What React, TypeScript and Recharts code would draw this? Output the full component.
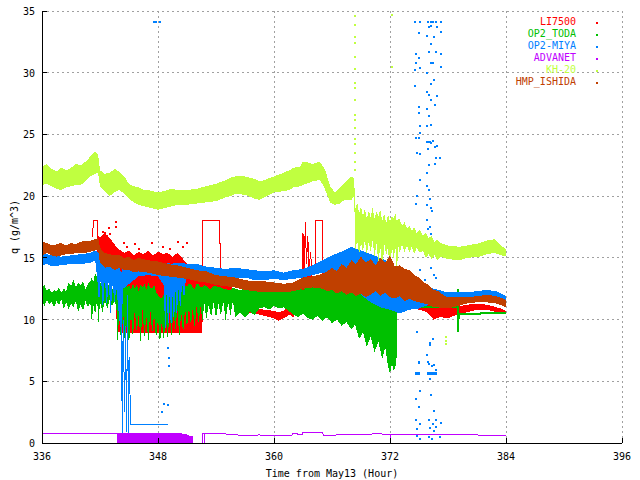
import React from 'react';
import {
  ComposedChart,
  Area,
  Line,
  Scatter,
  XAxis,
  YAxis,
  CartesianGrid,
} from 'recharts';

const FONT = '"DejaVu Sans Mono", "Liberation Mono", monospace';

const X_TICKS = [336, 348, 360, 372, 384, 396];
const Y_TICKS = [0, 5, 10, 15, 20, 25, 30, 35];

const SERIES_NAMES = ['LI7500', 'OP2_TODA', 'OP2-MIYA', 'ADVANET', 'KH-20', 'HMP_ISHIDA'];
const SERIES_COLORS = ['#ff0000', '#00c000', '#0080ff', '#c000ff', '#c0ff40', '#c04000'];
const [RED, GREEN, BLUE, PURPLE, YELLOW, BROWN] = SERIES_COLORS;

const LI7500_BAND = [
  [341.7, 14.8, 16.9], [342.0, 14.4, 16.6], [342.4, 14.0, 17.0], [342.8, 13.6, 16.8],
  [343.2, 13.4, 16.4], [343.6, 13.0, 16.0], [343.75, 9.0, 15.8], [344.5, 8.9, 15.4],
  [345.0, 8.9, 15.6], [345.5, 8.9, 15.2], [346.0, 8.9, 15.5], [346.5, 8.9, 15.3],
  [347.0, 8.9, 15.6], [347.5, 8.9, 15.2], [348.0, 8.9, 15.5], [348.5, 8.9, 15.3],
  [349.0, 8.9, 15.4], [349.5, 8.9, 15.1], [350.0, 8.9, 15.4], [350.5, 8.9, 15.0],
  [351.0, 8.9, 14.5], [351.5, 8.9, 14.0], [352.0, 8.9, 13.6], [352.5, 8.9, 13.4],
  [352.6, 11.8, 13.4], [353.5, 11.8, 13.2], [354.5, 11.6, 13.0], [355.5, 11.8, 12.8],
  [356.0, 11.0, 12.2], [356.5, 10.6, 11.4], [357.0, 10.5, 11.0], [358.0, 10.5, 10.9],
  [359.0, 10.3, 10.8], [360.0, 10.1, 10.7], [360.5, 9.9, 10.6], [361.0, 10.1, 10.7],
  [361.6, 10.4, 11.2], [362.0, 10.2, 11.8], [362.5, 10.8, 12.4], [362.9, 11.5, 13.6],
  [363.9, 11.5, 13.5], [364.2, 11.0, 13.0], [365.0, 10.2, 11.2], [366.0, 10.5, 12.0],
  [368.0, 10.6, 12.2], [370.0, 10.5, 12.4], [372.0, 10.8, 11.8], [373.0, 11.0, 11.8],
  [374.0, 10.9, 11.7], [375.0, 10.8, 11.8], [375.8, 10.6, 11.4], [376.5, 10.0, 11.2],
  [377.2, 10.2, 11.0], [378.0, 10.1, 10.9], [378.5, 10.3, 10.9], [379.2, 10.4, 11.1],
  [380.0, 10.6, 11.2], [381.0, 10.8, 11.3], [382.0, 10.8, 11.2], [383.0, 10.6, 11.0],
  [383.5, 10.5, 10.9], [384.0, 10.4, 10.7],
];
const LI7500_STEP_A = [[341.25, 16.7], [341.3, 18.0], [341.7, 18.0], [341.75, 16.2]];
const LI7500_STEP_B = [[352.55, 9.0], [352.6, 18.0], [354.4, 18.0], [354.45, 11.8]];
const LI7500_STEP_C = [[364.25, 14.3], [364.3, 18.0], [365.0, 18.0], [365.05, 12.8]];
const LI7500_SPIKE = [
  [362.9, 13.5], [363.0, 17.0], [363.1, 14.0], [363.25, 17.9], [363.35, 14.5],
  [363.5, 16.8], [363.6, 14.0], [363.8, 15.5], [363.9, 13.5],
];
const LI7500_DOTS = [
  [342.3, 17.1], [342.5, 17.0], [342.9, 17.4], [343.0, 16.9], [343.7, 17.9], [343.65, 17.5],
  [344.5, 16.2], [344.75, 15.9], [345.6, 16.1], [346.0, 15.7], [347.35, 16.2], [348.55, 15.9],
  [349.25, 15.7], [350.1, 16.3], [350.6, 15.9], [350.95, 16.2],
];

const OP2_TODA_BAND = [
  [336.0, 11.5, 12.6], [336.25, 11.1, 12.8], [336.5, 11.6, 12.3], [336.75, 11.2, 12.5],
  [337.0, 11.4, 12.2], [337.25, 11.0, 12.4], [337.5, 11.5, 12.3], [337.75, 11.2, 12.6],
  [338.0, 11.6, 12.2], [338.25, 10.9, 12.5], [338.5, 11.4, 12.3], [338.75, 10.8, 13.0],
  [339.0, 11.3, 12.7], [339.25, 11.0, 13.2], [339.5, 11.5, 12.6], [339.75, 10.6, 13.0],
  [340.0, 11.2, 12.8], [340.25, 10.7, 13.1], [340.5, 11.5, 12.5], [340.75, 11.0, 12.9],
  [341.0, 11.4, 13.1], [341.15, 9.7, 13.4], [341.3, 11.2, 13.0], [341.5, 10.4, 13.8],
  [341.7, 11.6, 13.4], [341.85, 9.8, 13.6], [342.0, 11.4, 13.0], [342.25, 10.6, 12.8],
  [342.5, 11.5, 13.1], [342.75, 10.9, 12.6], [343.0, 11.6, 13.0], [343.25, 11.1, 12.5],
  [343.5, 11.5, 12.3], [343.7, 11.0, 12.4], [343.8, 8.2, 12.6], [344.0, 10.5, 13.4],
  [344.2, 7.6, 12.8], [344.4, 10.8, 13.2], [344.6, 7.4, 12.9], [344.8, 10.2, 12.6],
  [345.0, 7.7, 12.8], [345.2, 10.6, 12.4], [345.4, 8.4, 12.9], [345.6, 10.9, 12.5],
  [345.8, 8.9, 12.8], [346.0, 10.4, 12.3], [346.2, 8.2, 12.8], [346.4, 10.8, 12.6],
  [346.6, 8.6, 12.9], [346.8, 10.3, 12.4], [347.0, 8.1, 13.0], [347.2, 10.9, 12.6],
  [347.4, 8.8, 12.5], [347.6, 10.5, 12.8], [347.8, 8.3, 12.2], [348.0, 10.2, 12.0],
  [348.2, 7.9, 11.8], [348.4, 10.0, 11.7], [348.6, 8.2, 12.0], [348.8, 10.4, 12.3],
  [349.0, 8.4, 12.3], [349.2, 10.6, 12.5], [349.4, 8.7, 12.6], [349.6, 10.8, 12.7],
  [349.8, 9.1, 12.9], [350.0, 10.9, 12.6], [350.2, 8.5, 12.6], [350.4, 10.7, 12.8],
  [350.6, 8.8, 13.0], [350.8, 11.0, 12.7], [351.0, 9.2, 12.7], [351.2, 11.1, 12.9],
  [351.4, 9.5, 12.9], [351.6, 11.0, 12.6], [351.8, 9.3, 12.5], [352.0, 11.2, 12.9],
  [352.2, 9.7, 12.9], [352.4, 11.0, 12.6], [352.6, 9.9, 12.6], [352.8, 11.3, 12.8],
  [353.0, 10.0, 12.7], [353.25, 11.2, 12.5], [353.5, 10.2, 12.5], [353.75, 11.4, 12.7],
  [354.0, 10.1, 12.7], [354.25, 11.3, 12.6], [354.5, 10.3, 12.6], [354.75, 11.5, 12.5],
  [355.0, 9.9, 12.5], [355.25, 11.4, 12.4], [355.5, 10.4, 12.4], [355.75, 11.5, 12.6],
  [356.0, 10.2, 12.5], [356.5, 10.6, 12.4], [357.0, 10.2, 12.5], [357.5, 10.6, 12.4],
  [358.0, 10.4, 12.5], [358.5, 10.9, 12.4], [359.0, 11.0, 12.3], [359.5, 10.8, 12.4],
  [360.0, 11.1, 12.4], [360.5, 10.9, 12.3], [361.0, 11.0, 12.5], [361.5, 10.7, 12.4],
  [362.0, 10.4, 12.5], [362.5, 10.2, 12.6], [363.0, 10.5, 12.4], [363.5, 10.1, 12.7],
  [364.0, 10.0, 12.6], [364.5, 10.3, 12.8], [365.0, 9.9, 12.7], [365.5, 10.2, 12.9],
  [366.0, 9.7, 13.0], [366.5, 10.0, 12.9], [367.0, 9.5, 13.1], [367.5, 9.8, 13.0],
  [368.0, 9.2, 13.2], [368.4, 9.6, 13.0], [368.8, 8.4, 13.2], [369.2, 9.0, 12.9],
  [369.6, 7.8, 13.0], [370.0, 8.6, 12.8], [370.4, 7.4, 12.9], [370.8, 8.2, 12.6],
  [371.2, 6.8, 12.5], [371.5, 7.8, 12.0], [371.8, 6.2, 11.8], [372.0, 5.6, 11.6],
  [372.2, 6.4, 11.4], [372.4, 5.8, 11.2], [372.6, 6.3, 11.0], [372.75, 7.5, 11.0],
];
const OP2_TODA_TAIL = [
  [372.75, 11.0], [378.9, 11.0], [379.0, 12.5], [379.05, 9.0], [379.1, 10.45],
  [381.3, 10.45], [381.35, 10.5], [384.0, 10.5],
];

const OP2_MIYA_BAND = [
  [336.0, 14.4, 15.4], [336.5, 14.5, 15.3], [337.0, 14.3, 15.2], [338.0, 14.4, 15.1],
  [339.0, 14.5, 15.2], [340.0, 14.5, 15.3], [341.0, 14.6, 15.4], [341.5, 14.8, 15.6],
  [341.7, 13.5, 15.5], [341.9, 11.2, 15.3], [342.1, 13.6, 15.2], [342.3, 10.6, 15.0],
  [342.5, 13.4, 14.9], [342.7, 11.0, 14.8], [342.9, 13.2, 14.8], [343.1, 10.4, 14.6],
  [343.3, 12.8, 14.5], [343.5, 11.4, 14.4], [343.7, 12.5, 14.3], [344.0, 10.0, 14.2],
  [344.2, 9.0, 13.8], [344.4, 12.5, 14.2], [345.2, 13.0, 14.5], [346.0, 13.5, 14.6],
  [347.0, 13.6, 14.5], [348.0, 13.5, 14.4], [348.6, 12.8, 14.4], [348.75, 8.6, 14.4],
  [348.9, 12.5, 14.5], [349.05, 9.0, 14.6], [349.2, 12.0, 14.6], [349.35, 8.8, 14.5],
  [349.5, 11.8, 14.5], [349.65, 9.5, 14.6], [349.8, 12.4, 14.6], [349.95, 10.0, 14.6],
  [350.1, 12.6, 14.6], [350.3, 10.8, 14.6], [350.5, 13.0, 14.6], [350.7, 11.6, 14.6],
  [350.9, 13.5, 14.5], [352.0, 13.6, 14.5], [353.0, 13.5, 14.3], [354.0, 13.4, 14.2],
  [355.0, 13.3, 14.1], [356.0, 13.4, 14.2], [357.0, 13.4, 14.1], [358.0, 13.2, 14.0],
  [359.0, 13.2, 13.9], [360.0, 13.3, 14.0], [361.0, 13.2, 13.8], [362.0, 13.3, 14.0],
  [363.0, 13.4, 14.1], [364.0, 13.6, 14.4], [365.0, 13.8, 14.8], [366.0, 13.8, 15.2],
  [367.0, 13.6, 15.5], [368.0, 12.8, 15.9], [369.0, 12.0, 15.6], [370.0, 11.4, 15.3],
  [371.0, 11.0, 15.0], [372.0, 10.8, 14.6], [373.0, 10.5, 13.8], [374.0, 10.8, 13.4],
  [375.0, 10.9, 13.0], [376.0, 11.2, 12.6], [377.0, 11.0, 12.4], [378.0, 11.3, 12.2],
  [379.0, 11.4, 12.2], [380.0, 11.6, 12.2], [381.0, 11.6, 12.3], [382.0, 11.7, 12.4],
  [383.0, 11.6, 12.3], [384.0, 11.2, 11.9],
];
const OP2_MIYA_DROP = [
  [344.2, 12.5], [344.3, 0.8], [344.4, 10.0], [344.55, 2.5], [344.65, 9.5], [344.75, 0.9],
  [344.85, 12.0], [344.95, 0.8], [345.05, 7.0], [345.15, 1.5], [349.0, 1.5],
];
const OP2_MIYA_BAR_A = [[374.6, 5.6], [375.1, 5.6]];
const OP2_MIYA_BAR_B = [[375.85, 5.6], [376.9, 5.6]];
const OP2_MIYA_DOTS = [
  [347.6, 34.1], [347.75, 34.1], [348.25, 34.1], [349.05, 7.7], [349.1, 6.9], [349.15, 6.2],
  [348.6, 3.2], [349.05, 3.1], [348.4, 2.5],
  [374.6, 34.1], [375.1, 34.1], [375.95, 34.1], [376.2, 34.1], [376.45, 34.1], [376.8, 34.1],
  [377.25, 34.1], [376.2, 33.8], [376.9, 33.7], [376.05, 33.7], [375.0, 33.2], [377.25, 33.3],
  [375.85, 33.0], [376.6, 32.9], [376.25, 32.3], [376.05, 31.7], [376.75, 31.7], [374.7, 31.5],
  [377.25, 31.5], [375.0, 31.2], [376.2, 30.8], [374.7, 30.8], [376.45, 30.8], [377.25, 30.5],
  [375.15, 30.4], [374.6, 30.2], [375.85, 30.0], [376.6, 29.4], [374.6, 28.9], [376.25, 29.1],
  [375.85, 28.4], [376.05, 28.2], [376.9, 28.1], [376.2, 27.8], [375.0, 27.2], [375.85, 27.1],
  [376.65, 27.4], [375.0, 26.7], [376.05, 26.5], [375.1, 25.7], [375.85, 25.7], [376.25, 25.8],
  [375.1, 25.1], [374.7, 24.7], [375.0, 24.7], [375.95, 24.4], [376.2, 24.3], [376.9, 24.1],
  [374.75, 23.5], [375.1, 23.4], [375.85, 24.4], [376.1, 24.4], [376.4, 24.5], [376.65, 24.0],
  [376.8, 23.1], [375.95, 23.8], [377.2, 23.1], [376.05, 22.5], [376.7, 22.6], [375.85, 21.9],
  [375.1, 21.3], [375.85, 20.8], [376.05, 20.5], [374.75, 20.0], [376.1, 19.8], [374.7, 19.4],
  [375.85, 19.3], [376.2, 19.0], [376.3, 18.8], [375.85, 18.1], [376.1, 17.5], [375.95, 17.3],
  [376.25, 16.9], [376.2, 14.2], [375.1, 14.0], [376.55, 13.6], [376.75, 13.4], [375.6, 13.2],
  [376.4, 8.4], [376.1, 8.1], [374.75, 9.0], [375.0, 6.6], [375.95, 6.6], [376.3, 6.2],
  [376.8, 5.9], [376.1, 7.9], [375.8, 7.1], [375.0, 6.5], [376.0, 6.4], [376.55, 6.3],
  [376.1, 5.2], [375.15, 4.2], [376.2, 3.9], [374.7, 3.6], [375.0, 2.9], [376.55, 2.6],
  [374.7, 1.9], [376.0, 1.9], [376.8, 1.9], [377.25, 1.6], [375.1, 1.5], [376.4, 1.5],
  [376.75, 1.3], [374.75, 1.1], [376.1, 1.2], [376.55, 1.0], [374.75, 0.57], [376.05, 0.5],
  [377.15, 0.46], [375.1, 0.3], [376.3, 0.3],
];

const ADVANET_LEAD = [[336.0, 0.73], [343.8, 0.73]];
const ADVANET_BLOCK = [
  [343.8, 0, 0.78], [345.0, 0, 0.82], [346.0, 0, 0.8], [347.0, 0, 0.85], [348.0, 0, 0.82],
  [349.0, 0, 0.85], [350.0, 0, 0.8], [350.8, 0, 0.75], [351.2, 0, 0.6], [351.65, 0, 0.55],
];
const ADVANET_TAIL = [
  [352.6, 0.0], [352.6, 0.73], [352.8, 0.73], [352.8, 0.0], [352.82, 0.73], [354.3, 0.73],
  [354.35, 0.78], [355.0, 0.78], [355.05, 0.7], [357.0, 0.62], [358.5, 0.65], [360.0, 0.6],
  [361.0, 0.62], [361.8, 0.6], [362.0, 0.8], [362.6, 0.7], [362.95, 0.7], [363.0, 0.88],
  [365.0, 0.88], [365.1, 0.62], [367.0, 0.66], [369.0, 0.7], [371.0, 0.75], [372.0, 0.65],
  [372.05, 0.35], [372.1, 0.68], [374.0, 0.7], [376.0, 0.66], [378.0, 0.7], [380.0, 0.68],
  [382.0, 0.62], [384.0, 0.6],
];

const KH20_BAND = [
  [336.0, 20.9, 22.4], [336.5, 21.0, 22.6], [337.0, 20.8, 22.2], [337.5, 20.6, 22.0],
  [338.0, 20.5, 22.3], [338.5, 20.7, 22.1], [339.0, 20.8, 22.3], [339.5, 20.9, 22.6],
  [340.0, 20.9, 22.5], [340.5, 21.2, 22.8], [341.0, 21.6, 23.2], [341.5, 21.8, 23.6],
  [341.8, 21.9, 23.4], [342.0, 20.8, 22.1], [342.5, 20.4, 21.8], [343.0, 20.0, 21.9],
  [343.5, 20.3, 22.2], [344.0, 20.5, 22.0], [344.5, 20.2, 21.6], [345.0, 19.8, 21.0],
  [345.5, 19.5, 20.8], [346.0, 19.3, 20.7], [346.5, 19.2, 20.5], [347.0, 19.1, 20.5],
  [347.5, 19.0, 20.4], [348.0, 18.9, 20.3], [348.5, 19.0, 20.4], [349.0, 19.1, 20.5],
  [349.5, 19.2, 20.6], [350.0, 19.3, 20.5], [351.0, 19.3, 20.5], [352.0, 19.4, 20.6],
  [353.0, 19.5, 20.8], [354.0, 19.6, 21.0], [355.0, 19.9, 21.3], [355.5, 20.0, 21.5],
  [356.0, 20.2, 21.6], [357.0, 20.1, 21.6], [358.0, 19.8, 21.4], [358.5, 19.7, 21.2],
  [359.0, 19.9, 21.3], [360.0, 20.3, 21.6], [361.0, 20.4, 21.9], [361.6, 20.5, 22.1],
  [362.0, 20.7, 22.3], [362.7, 20.8, 22.4], [363.0, 20.9, 22.8], [363.7, 21.1, 22.7],
  [364.0, 21.2, 22.6], [364.7, 21.3, 22.8], [365.0, 21.0, 22.5], [365.3, 20.5, 22.1],
  [365.8, 19.5, 20.8], [366.3, 19.3, 20.3], [366.8, 19.4, 20.7], [367.3, 19.7, 21.1],
  [368.0, 19.7, 21.6], [368.3, 20.0, 21.4], [368.4, 15.6, 18.9], [368.6, 16.4, 19.5],
  [368.8, 15.3, 18.6], [369.0, 16.2, 19.2], [369.2, 15.5, 18.4], [369.4, 16.5, 19.0],
  [369.6, 15.2, 18.2], [369.8, 16.3, 18.8], [370.0, 15.5, 18.3], [370.2, 16.4, 19.1],
  [370.4, 15.1, 18.2], [370.6, 16.2, 18.7], [370.8, 14.5, 18.4], [371.0, 16.0, 18.9],
  [371.2, 13.4, 18.0], [371.4, 16.2, 18.6], [371.6, 15.2, 17.8], [371.8, 15.9, 18.5],
  [372.0, 13.2, 17.9], [372.2, 16.0, 18.4], [372.4, 14.8, 18.2], [372.55, 16.1, 18.6],
  [372.7, 13.5, 18.0], [372.85, 16.0, 18.2], [373.0, 15.4, 18.1], [373.25, 16.1, 17.6],
  [373.5, 15.5, 17.9], [373.75, 16.0, 17.4], [374.0, 15.4, 17.6], [374.25, 15.9, 17.2],
  [374.5, 15.3, 17.5], [374.75, 15.8, 17.0], [375.1, 15.4, 17.3], [375.4, 15.6, 16.8],
  [375.7, 15.0, 17.0], [376.0, 15.3, 16.6], [376.3, 14.9, 16.8], [376.6, 15.2, 16.3],
  [376.9, 14.8, 16.5], [377.2, 15.1, 16.2], [378.0, 14.9, 16.0], [379.2, 14.8, 15.9],
  [380.0, 15.0, 16.0], [381.3, 15.1, 16.2], [382.0, 15.3, 16.4], [382.8, 15.4, 16.5],
  [383.5, 15.2, 16.0], [384.0, 15.1, 15.7],
];
const KH20_DOTS = [
  [368.4, 34.6], [368.4, 33.9], [368.4, 32.9], [368.4, 32.4], [368.4, 31.3], [368.4, 30.3],
  [368.4, 29.2], [368.4, 28.8], [368.4, 27.8], [368.4, 26.6], [368.4, 26.2], [368.4, 25.5],
  [368.4, 24.6], [368.4, 24.2], [368.4, 23.5], [368.4, 22.8], [368.4, 22.1],
  [372.25, 30.5], [372.2, 34.7], [377.8, 8.0], [377.8, 8.3], [377.8, 8.6],
];

const HMP_ISHIDA_BAND = [
  [336.0, 15.2, 16.3], [336.5, 15.4, 16.2], [337.0, 15.2, 16.0], [337.5, 15.1, 16.1],
  [338.0, 15.2, 16.2], [338.5, 15.3, 16.0], [339.0, 15.3, 16.2], [339.5, 15.4, 16.1],
  [340.0, 15.4, 16.3], [340.5, 15.4, 16.4], [341.0, 15.5, 16.4], [341.5, 15.6, 16.5],
  [341.8, 15.6, 16.6], [342.0, 14.6, 15.8], [342.5, 14.2, 15.4], [343.0, 14.3, 15.3],
  [343.5, 14.0, 15.2], [344.0, 14.2, 15.2], [344.5, 14.0, 15.0], [345.0, 14.0, 15.1],
  [345.5, 13.8, 14.8], [346.0, 13.9, 15.0], [347.0, 13.8, 14.8], [348.0, 13.6, 14.7],
  [349.0, 13.5, 14.5], [350.0, 13.4, 14.4], [351.0, 13.3, 14.2], [352.0, 13.1, 14.0],
  [353.0, 13.0, 13.9], [354.0, 12.8, 13.6], [355.0, 12.7, 13.5], [356.0, 12.6, 13.4],
  [357.0, 12.4, 13.2], [358.0, 12.3, 13.1], [359.0, 12.2, 13.1], [360.0, 12.2, 13.0],
  [361.0, 12.2, 12.9], [362.0, 12.3, 13.0], [363.0, 12.5, 13.4], [364.0, 12.6, 13.5],
  [365.0, 12.5, 13.7], [365.5, 12.3, 13.9], [366.0, 12.4, 14.2], [366.5, 12.1, 13.9],
  [367.0, 12.3, 14.5], [367.5, 12.0, 14.2], [368.0, 12.2, 14.8], [368.5, 11.9, 14.5],
  [369.0, 12.1, 15.1], [369.5, 11.8, 14.6], [370.0, 12.0, 14.9], [370.5, 12.3, 14.4],
  [371.0, 11.9, 15.0], [371.5, 12.2, 14.6], [372.0, 11.8, 15.2], [372.5, 11.7, 14.3],
  [373.0, 11.9, 14.4], [373.5, 11.5, 14.1], [374.0, 11.7, 14.0], [374.5, 11.5, 13.6],
  [375.0, 11.4, 13.4], [375.5, 11.3, 13.0], [376.0, 11.2, 12.8], [376.5, 11.0, 12.4],
  [377.0, 11.0, 12.3], [377.5, 10.9, 12.0], [378.0, 10.9, 11.8], [379.0, 11.1, 11.8],
  [380.0, 11.3, 11.8], [381.0, 11.4, 11.9], [382.0, 11.4, 12.0], [383.0, 11.3, 11.9],
  [384.0, 11.0, 11.6],
];

const toBand = (rows: number[][]) => rows.map(([t, lo, hi]) => ({ t, r: [lo, hi] }));
const toPts = (rows: number[][]) => rows.map(([t, v]) => ({ t, v }));

const BottomTick = (p: any) => (
  <g>
    <line x1={p.x} y1={p.y} x2={p.x} y2={p.y - 5} stroke="#000" />
    <text x={p.x} y={p.y + 17} textAnchor="middle" fontSize={10} fontFamily={FONT} fill="#000">
      {p.payload.value}
    </text>
  </g>
);
const TopTick = (p: any) => <line x1={p.x} y1={p.y} x2={p.x} y2={p.y + 5} stroke="#000" />;
const LeftTick = (p: any) => (
  <g>
    <line x1={p.x} y1={p.y} x2={p.x + 5} y2={p.y} stroke="#000" />
    <text x={p.x - 7} y={p.y + 4} textAnchor="end" fontSize={10} fontFamily={FONT} fill="#000">
      {p.payload.value}
    </text>
  </g>
);
const RightTick = (p: any) => <line x1={p.x} y1={p.y} x2={p.x - 5} y2={p.y} stroke="#000" />;

const dotShape = (color: string) => (p: any) =>
  <rect x={p.cx - 1} y={p.cy - 1} width={2} height={2} fill={color} />;

// gnuplot draws the series in legend order, later ones on top
const band = (rows: number[][], color: string, key: string, z: number) => (
  <Area
    key={key}
    data={toBand(rows)}
    dataKey="r"
    type="linear"
    stroke="none"
    fill={color}
    fillOpacity={1}
    dot={false}
    activeDot={false}
    isAnimationActive={false}
    zIndex={z}
  />
);
const path = (rows: number[][], color: string, key: string, z: number, width = 1) => (
  <Line
    key={key}
    data={toPts(rows)}
    dataKey="v"
    type="linear"
    stroke={color}
    strokeWidth={width}
    dot={false}
    activeDot={false}
    isAnimationActive={false}
    zIndex={z}
  />
);
const dots = (rows: number[][], color: string, key: string, z: number) => (
  <Scatter
    key={key}
    data={toPts(rows)}
    dataKey="v"
    fill={color}
    shape={dotShape(color)}
    isAnimationActive={false}
    zIndex={z}
  />
);

export default function App() {
  return (
    <div
      style={{
        position: 'fixed',
        left: 0,
        top: 0,
        width: 640,
        height: 480,
        background: '#fff',
        fontFamily: FONT,
        shapeRendering: 'crispEdges',
      }}
    >
      <ComposedChart width={640} height={480} margin={{ top: 11, right: 18, left: 0, bottom: 0 }}>
        <CartesianGrid stroke="#a0a0a0" strokeDasharray="2 3" />
        <XAxis
          type="number"
          dataKey="t"
          domain={[336, 396]}
          ticks={X_TICKS}
          height={37}
          allowDataOverflow
          axisLine={{ stroke: '#000' }}
          tickLine={false}
          tickSize={0}
          tickMargin={0}
          tick={BottomTick}
          label={{
            value: 'Time from May13 (Hour)',
            position: 'insideBottom',
            offset: 3,
            fill: '#000',
            fontSize: 10,
            fontFamily: FONT,
          }}
        />
        <XAxis
          xAxisId="top"
          orientation="top"
          type="number"
          domain={[336, 396]}
          ticks={X_TICKS}
          height={0}
          allowDataOverflow
          axisLine={{ stroke: '#000' }}
          tickLine={false}
          tickSize={0}
          tickMargin={0}
          tick={TopTick}
        />
        <YAxis
          type="number"
          domain={[0, 35]}
          ticks={Y_TICKS}
          width={42}
          allowDataOverflow
          axisLine={{ stroke: '#000' }}
          tickLine={false}
          tickSize={0}
          tickMargin={0}
          tick={LeftTick}
          label={{
            content: ({ viewBox }: any) => {
              const cx = 14;
              const cy = viewBox.y + viewBox.height / 2;
              return (
                <text
                  x={cx}
                  y={cy}
                  transform={`rotate(-90, ${cx}, ${cy})`}
                  textAnchor="middle"
                  dominantBaseline="central"
                  fontSize={10}
                  fontFamily={FONT}
                  fill="#000"
                >
                  q (g/m^3)
                </text>
              );
            },
          }}
        />
        <YAxis
          yAxisId="right"
          orientation="right"
          type="number"
          domain={[0, 35]}
          ticks={Y_TICKS}
          width={0}
          allowDataOverflow
          axisLine={{ stroke: '#000' }}
          tickLine={false}
          tickSize={0}
          tickMargin={0}
          tick={RightTick}
        />

        {band(LI7500_BAND, RED, 'li-band', 101)}
        {path(LI7500_STEP_A, RED, 'li-a', 102)}
        {path(LI7500_STEP_B, RED, 'li-b', 102)}
        {path(LI7500_STEP_C, RED, 'li-c', 102)}
        {path(LI7500_SPIKE, RED, 'li-spike', 102)}
        {dots(LI7500_DOTS, RED, 'li-dots', 102)}

        {band(OP2_TODA_BAND, GREEN, 'toda-band', 111)}
        {path(OP2_TODA_TAIL, GREEN, 'toda-tail', 112, 2)}

        {band(OP2_MIYA_BAND, BLUE, 'miya-band', 121)}
        {path(OP2_MIYA_DROP, BLUE, 'miya-drop', 122)}
        {path(OP2_MIYA_BAR_A, BLUE, 'miya-bar-a', 122, 3)}
        {path(OP2_MIYA_BAR_B, BLUE, 'miya-bar-b', 122, 3)}
        {dots(OP2_MIYA_DOTS, BLUE, 'miya-dots', 122)}

        {path(ADVANET_LEAD, PURPLE, 'adv-lead', 131)}
        {band(ADVANET_BLOCK, PURPLE, 'adv-block', 131)}
        {path(ADVANET_TAIL, PURPLE, 'adv-tail', 131)}

        {band(KH20_BAND, YELLOW, 'kh-band', 141)}
        {dots(KH20_DOTS, YELLOW, 'kh-dots', 142)}

        {band(HMP_ISHIDA_BAND, BROWN, 'hmp-band', 151)}
      </ComposedChart>

      <div style={{ position: 'absolute', left: 0, top: 16, width: 576, fontSize: 10, lineHeight: '12px' }}>
        {SERIES_NAMES.map((name, i) => (
          <div key={name} style={{ textAlign: 'right', color: SERIES_COLORS[i], position: 'relative' }}>
            {name}
            <span
              style={{
                position: 'absolute',
                left: 596,
                top: 6,
                width: 1.5,
                height: 1.5,
                background: SERIES_COLORS[i],
              }}
            />
          </div>
        ))}
      </div>
    </div>
  );
}
